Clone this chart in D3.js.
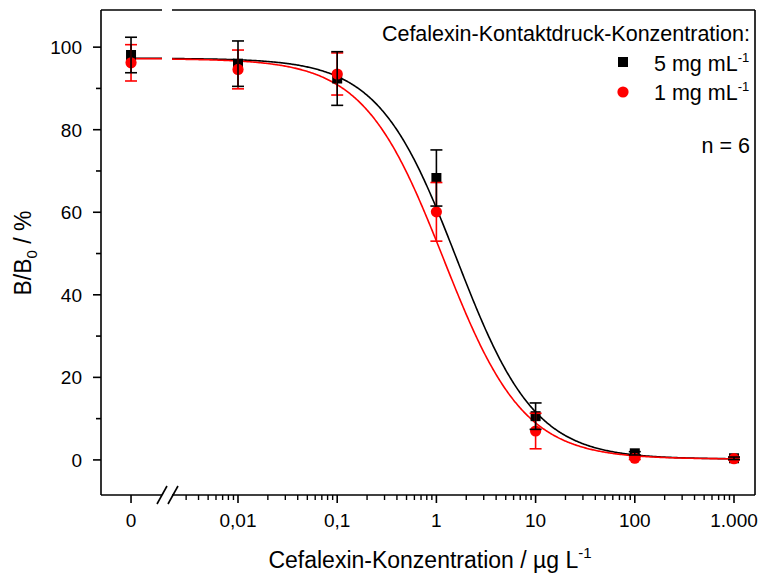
<!DOCTYPE html>
<html>
<head>
<meta charset="utf-8">
<script src="https://cdn.jsdelivr.net/npm/d3@7"></script>
<style>
  body { margin: 0; background: #fff; }
  svg { display: block; }
  text { font-family: "Liberation Sans", Arial, sans-serif; fill: #000; }
</style>
</head>
<body>
<svg id="chart" width="764" height="576"></svg>
<script>
// concentrations (ug/L), 0 is the blank drawn left of the axis break
const conc = [0, 0.01, 0.1, 1, 10, 100, 1000];
const concLabels = ["0", "0,01", "0,1", "1", "10", "100", "1.000"];

// 5 mg/mL contact print
const mean5 = [98.1, 96.0, 92.4, 68.3, 10.6, 1.6, 0.4];
const sd5   = [4.3, 5.5, 6.5, 6.8, 3.2, 0.4, 0.3];
// 1 mg/mL contact print
const mean1 = [96.2, 94.6, 93.5, 60.1, 7.0, 0.4, 0.3];
const sd1   = [4.4, 4.7, 5.1, 7.1, 4.3, 0.3, 0.3];

// 4PL fit parameters [top, bottom, IC50, hill]
const fit5 = [97.3, 0.2, 1.6, 1.1];
const fit1 = [97.2, 0.2, 1.18, 1.08];

const yTicks = [0, 20, 40, 60, 80, 100];
const yMinor = [10, 30, 50, 70, 90];

const svg = d3.select("#chart");
const pLeft = 101, pRight = 755, pTop = 10, pBottom = 495;
const breakL = 162, breakR = 172;
const zeroStand = 8.35e-4; // stand-in position for the blank

let x = d3.scaleLog().domain([0.01, 1000]).range([238, 734]);
let y = d3.scaleLinear().domain([-8.5, 109]).range([pBottom, pTop]);
const xp = c => c === 0 ? x(zeroStand) : x(c);

let font = 19;

// frame
let frame = svg.append("g").attr("stroke", "#000").attr("stroke-width", 1.6).attr("fill", "none");
frame.append("line").attr("x1", pLeft).attr("x2", pLeft).attr("y1", pTop).attr("y2", pBottom);
frame.append("line").attr("x1", pRight).attr("x2", pRight).attr("y1", pTop).attr("y2", pBottom);
frame.append("line").attr("x1", pLeft).attr("x2", breakL).attr("y1", pTop).attr("y2", pTop);
frame.append("line").attr("x1", breakR).attr("x2", pRight).attr("y1", pTop).attr("y2", pTop);
frame.append("line").attr("x1", pLeft).attr("x2", breakL).attr("y1", pBottom).attr("y2", pBottom);
frame.append("line").attr("x1", breakR).attr("x2", pRight).attr("y1", pBottom).attr("y2", pBottom);
// the break marks
[breakL - 5, breakR - 4].forEach(bx => {
    frame.append("line")
        .attr("x1", bx).attr("y1", pBottom + 9)
        .attr("x2", bx + 10).attr("y2", pBottom - 9);
});

// y axis
let ya = svg.append("g");
yTicks.forEach(v => {
    ya.append("line").attr("x1", pLeft - 8).attr("x2", pLeft)
        .attr("y1", y(v)).attr("y2", y(v)).attr("stroke", "#000").attr("stroke-width", 1.6);
    ya.append("text").attr("x", pLeft - 19).attr("y", y(v)).attr("dy", "0.36em")
        .attr("text-anchor", "end").style("font-size", font + "px").text(v);
});
yMinor.forEach(v => {
    ya.append("line").attr("x1", pLeft - 5).attr("x2", pLeft)
        .attr("y1", y(v)).attr("y2", y(v)).attr("stroke", "#000").attr("stroke-width", 1.6);
});

// x axis
let xa = svg.append("g");
conc.forEach((c, i) => {
    xa.append("line").attr("x1", xp(c)).attr("x2", xp(c))
        .attr("y1", pBottom).attr("y2", pBottom + 8).attr("stroke", "#000").attr("stroke-width", 1.6);
    xa.append("text").attr("x", xp(c)).attr("y", 527)
        .attr("text-anchor", "middle").style("font-size", font + "px").text(concLabels[i]);
});
let minor = [];
for (let e = -3; e < 3; e++) {
    for (let m = 2; m <= 9; m++) {
        let v = m * Math.pow(10, e);
        if (x(v) > breakR + 8) minor.push(v);
    }
}
minor.forEach(v => {
    xa.append("line").attr("x1", x(v)).attr("x2", x(v))
        .attr("y1", pBottom).attr("y2", pBottom + 5).attr("stroke", "#000").attr("stroke-width", 1.4);
});

// axis titles
let xt = svg.append("text").attr("x", 430).attr("y", 568).attr("text-anchor", "middle")
    .style("font-size", "23px");
xt.append("tspan").text("Cefalexin-Konzentration / µg L");
xt.append("tspan").attr("dy", -10).style("font-size", "15px").text("-1");

let yt = svg.append("text").attr("transform", "translate(31,253) rotate(-90)")
    .attr("text-anchor", "middle").style("font-size", "23px");
yt.append("tspan").text("B/B");
yt.append("tspan").attr("dy", 6).style("font-size", "15px").text("0");
yt.append("tspan").attr("dy", -6).text(" / %");

// fit curves
const logistic = (p, c) => p[1] + (p[0] - p[1]) / (1 + Math.pow(c / p[2], p[3]));
let line = d3.line().x(d => d[0]).y(d => d[1]);
function drawFit(p, color) {
    let pts = [];
    for (let px = breakR; px <= x(1000); px += 1) {
        let c = x.invert(px);
        pts.push([px, y(logistic(p, c))]);
    }
    svg.append("path").attr("d", line(pts)).attr("fill", "none")
        .attr("stroke", color).attr("stroke-width", 1.6);
    svg.append("line").attr("x1", xp(0)).attr("x2", breakL)
        .attr("y1", y(p[0])).attr("y2", y(p[0]))
        .attr("stroke", color).attr("stroke-width", 1.6);
}
drawFit(fit5, "#000");
drawFit(fit1, "#ff0000");

// error bars
function drawErr(means, sds, color) {
    let g = svg.append("g").attr("stroke", color).attr("stroke-width", 1.6);
    conc.forEach((c, i) => {
        let cx = xp(c), hi = y(means[i] + sds[i]), lo = y(means[i] - sds[i]);
        g.append("line").attr("x1", cx).attr("x2", cx).attr("y1", hi).attr("y2", lo);
        g.append("line").attr("x1", cx - 6).attr("x2", cx + 6).attr("y1", hi).attr("y2", hi);
        g.append("line").attr("x1", cx - 6).attr("x2", cx + 6).attr("y1", lo).attr("y2", lo);
    });
}

// markers
svg.append("g").selectAll("rect").data(conc).join("rect")
    .attr("x", d => xp(d) - 5).attr("y", (d, i) => y(mean5[i]) - 5)
    .attr("width", 10).attr("height", 10).attr("fill", "#000");
svg.append("g").selectAll("circle").data(conc).join("circle")
    .attr("cx", d => xp(d)).attr("cy", (d, i) => y(mean1[i]))
    .attr("r", 5.6).attr("fill", "#ff0000");
drawErr(mean1, sd1, "#ff0000");
drawErr(mean5, sd5, "#000");

// legend
let lg = svg.append("g");
lg.append("text").attr("x", 750).attr("y", 41).attr("text-anchor", "end")
    .style("font-size", "21.5px").text("Cefalexin-Kontaktdruck-Konzentration:");
[["5", 71], ["1", 100]].forEach((d, i) => {
    let t = lg.append("text").attr("x", 654).attr("y", d[1]).style("font-size", "21.5px");
    t.append("tspan").text(d[0] + " mg mL");
    t.append("tspan").attr("dy", -9).style("font-size", "13px").text("-1");
});
lg.append("rect").attr("x", 618).attr("y", 57).attr("width", 10).attr("height", 10).attr("fill", "#000");
lg.append("circle").attr("cx", 623).attr("cy", 92).attr("r", 5.6).attr("fill", "#ff0000");
lg.append("text").attr("x", 750).attr("y", 153).attr("text-anchor", "end")
    .style("font-size", "21.5px").text("n = 6");
</script>
</body>
</html>
